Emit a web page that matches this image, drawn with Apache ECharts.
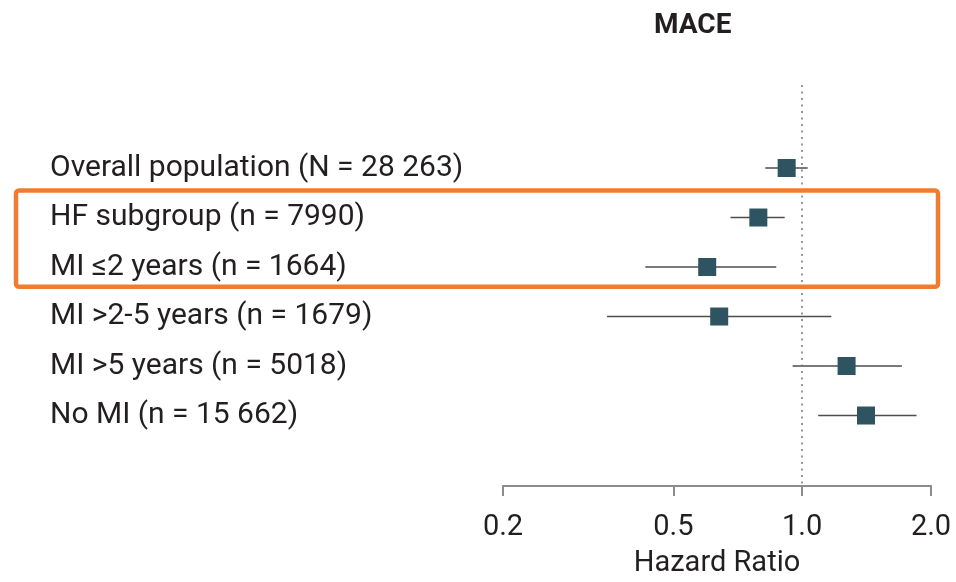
<!DOCTYPE html>
<html>
<head>
<meta charset="utf-8">
<script src="https://cdn.jsdelivr.net/npm/echarts@6/dist/echarts.min.js"></script>
<style>
  html, body { margin: 0; padding: 0; background: #fff; }
  #chart { width: 956px; height: 582px; }
</style>
</head>
<body>
<div id="chart"></div>
<script>
// Subgroups, top to bottom
const groups = [
  'Overall population (N = 28 263)',
  'HF subgroup (n = 7990)',
  'MI \u22642 years (n = 1664)',
  'MI >2-5 years (n = 1679)',
  'MI >5 years (n = 5018)',
  'No MI (n = 15 662)'
];
// Hazard ratios with 95% CI bounds
const hazardRatio = [0.92, 0.79, 0.60, 0.64, 1.27, 1.41];
const ciLower     = [0.82, 0.68, 0.43, 0.35, 0.95, 1.09];
const ciUpper     = [1.03, 0.91, 0.87, 1.17, 1.71, 1.85];
// X axis ticks
const xTicks = [0.2, 0.5, 1.0, 2.0];
// Subgroups framed by the highlight box
const highlighted = [1, 2];

const FONT = 'Roboto';
const TEXT = '#231f20';
const AXIS = '#8c8c8c';

const chart = echarts.init(document.getElementById('chart'), null, { renderer: 'canvas' });

const rows = groups.map((_, i) => i);

chart.setOption({
  animation: false,
  backgroundColor: '#ffffff',
  title: {
    text: 'MACE',
    left: 649,
    top: 7,
    textStyle: { fontFamily: FONT, fontSize: 28, fontWeight: 'bold', color: TEXT }
  },
  grid: { left: 503, right: 25, top: 85, bottom: 96, outerBoundsMode: 'none', containLabel: false },
  xAxis: {
    type: 'log',
    logBase: 10,
    min: 0.2,
    max: 2.0,
    name: 'Hazard Ratio',
    nameLocation: 'middle',
    nameGap: 63,
    nameTextStyle: { fontFamily: FONT, fontSize: 29, color: TEXT },
    axisLine: { show: true, onZero: false, lineStyle: { color: AXIS, width: 2 } },
    axisTick: { show: true, length: 10, customValues: xTicks, lineStyle: { color: AXIS, width: 2 } },
    axisLabel: {
      customValues: xTicks,
      formatter: v => Number(v).toFixed(1),
      fontFamily: FONT, fontSize: 29, color: TEXT, margin: 27
    },
    splitLine: { show: false },
    minorTick: { show: false }
  },
  yAxis: {
    type: 'value',
    inverse: true,
    min: -1.677,
    max: 6.424,
    axisLine: { show: false },
    axisTick: { show: false },
    splitLine: { show: false },
    axisLabel: {
      customValues: rows,
      formatter: v => groups[Math.round(v)] || '',
      align: 'left',
      margin: 453,
      fontFamily: FONT, fontSize: 30, color: TEXT
    }
  },
  series: [
    {
      type: 'custom',
      name: 'CI',
      z: 2,
      data: rows.map(i => [ciLower[i], ciUpper[i], i]),
      renderItem: (params, api) => {
        const a = api.coord([api.value(0), api.value(2)]);
        const b = api.coord([api.value(1), api.value(2)]);
        return {
          type: 'line',
          shape: { x1: a[0], y1: a[1], x2: b[0], y2: b[1] },
          style: { stroke: '#4d4d4d', lineWidth: 1.7 }
        };
      },
      encode: { x: [0, 1], y: 2 }
    },
    {
      type: 'scatter',
      name: 'HR',
      z: 3,
      symbol: 'rect',
      symbolSize: 18,
      itemStyle: { color: '#2e5461', opacity: 1 },
      data: rows.map(i => [hazardRatio[i], i]),
      markLine: {
        silent: true,
        symbol: 'none',
        label: { show: false },
        lineStyle: { type: [2, 4.5], color: '#777777', width: 1.5 },
        data: [{ xAxis: 1.0 }]
      }
    }
  ]
});

// Highlight frame around selected subgroups, placed from the y scale
const yTop = chart.convertToPixel({ yAxisIndex: 0 }, highlighted[0] - 0.545);
const yBot = chart.convertToPixel({ yAxisIndex: 0 }, highlighted[highlighted.length - 1] + 0.4);
chart.setOption({
  graphic: [{
    type: 'rect',
    z: 10,
    shape: { x: 16, y: yTop, width: 922, height: yBot - yTop, r: 3 },
    style: { fill: 'none', stroke: '#ee7d31', lineWidth: 4.5 }
  }]
});
</script>
</body>
</html>
